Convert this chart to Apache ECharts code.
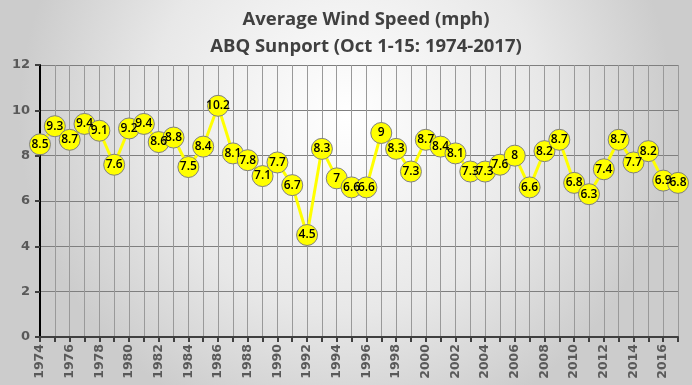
<!DOCTYPE html>
<html><head><meta charset="utf-8">
<script src="https://cdn.jsdelivr.net/npm/echarts@6/dist/echarts.min.js"></script>
<style>html,body{margin:0;padding:0;background:#fff}#c{width:692px;height:385px}</style>
</head><body><div id="c"></div>
<script>
const years = [];
for (let y = 1974; y <= 2017; y++) years.push(String(y));
const windSpeed = [8.5,9.3,8.7,9.4,9.1,7.6,9.2,9.4,8.6,8.8,7.5,8.4,10.2,8.1,7.8,7.1,7.7,6.7,4.5,8.3,7,6.6,6.6,9,8.3,7.3,8.7,8.4,8.1,7.3,7.3,7.6,8,6.6,8.2,8.7,6.8,6.3,7.4,8.7,7.7,8.2,6.9,6.8];
const titleLines = ['Average Wind Speed (mph)', 'ABQ Sunport (Oct 1-15: 1974-2017)'];

const chart = echarts.init(document.getElementById('c'), null, {renderer:'canvas'});
chart.setOption({
  animation: false,
  backgroundColor: {type:'radial', x:0.5, y:0.3, r:0.85,
    colorStops:[{offset:0,color:'#ffffff'},{offset:0.6,color:'#e8e8e8'},{offset:1,color:'#cccccc'}]},
  title: {
    text: titleLines.join('\n'), left: 361, top: 1, textAlign: 'center',
    textStyle: {fontFamily:'Open Sans', fontWeight:'bold', fontSize:18.5, color:'#404040', lineHeight:27}
  },
  grid: {left:40, right:14, top:65, bottom:48, show:false},
  xAxis: {
    type:'category', data: years, boundaryGap:false,
    axisLine:{lineStyle:{color:'#404040', width:2}},
    axisTick:{show:true, interval:0, length:5, lineStyle:{color:'#404040', width:2}},
    axisLabel:{interval:1, rotate:90, color:'#595959', fontFamily:'DejaVu Sans', fontWeight:'bold', fontSize:12.5, margin:7},
    splitLine:{show:true, interval:0, lineStyle:{color:'#999999', width:1}}
  },
  yAxis: {
    type:'value', min:0, max:12, interval:2,
    axisLine:{show:true, lineStyle:{color:'#000', width:2}},
    axisTick:{show:true, length:5, lineStyle:{color:'#404040', width:2}},
    axisLabel:{color:'#595959', fontFamily:'DejaVu Sans', fontWeight:'bold', fontSize:13, margin:10},
    splitLine:{lineStyle:{color:'#7f7f7f', width:1}}
  },
  series: [{
    type:'line', data: windSpeed, showAllSymbol:true,
    lineStyle:{color:'#ffff00', width:3},
    symbol:'circle', symbolSize:21,
    itemStyle:{color:'#ffff00', borderColor:'#808080', borderWidth:1},
    label:{show:true, position:'inside', color:'#000', fontFamily:'Open Sans', fontWeight:600, fontSize:12},
    labelLayout:{hideOverlap:false}
  }]
});
</script></body></html>
